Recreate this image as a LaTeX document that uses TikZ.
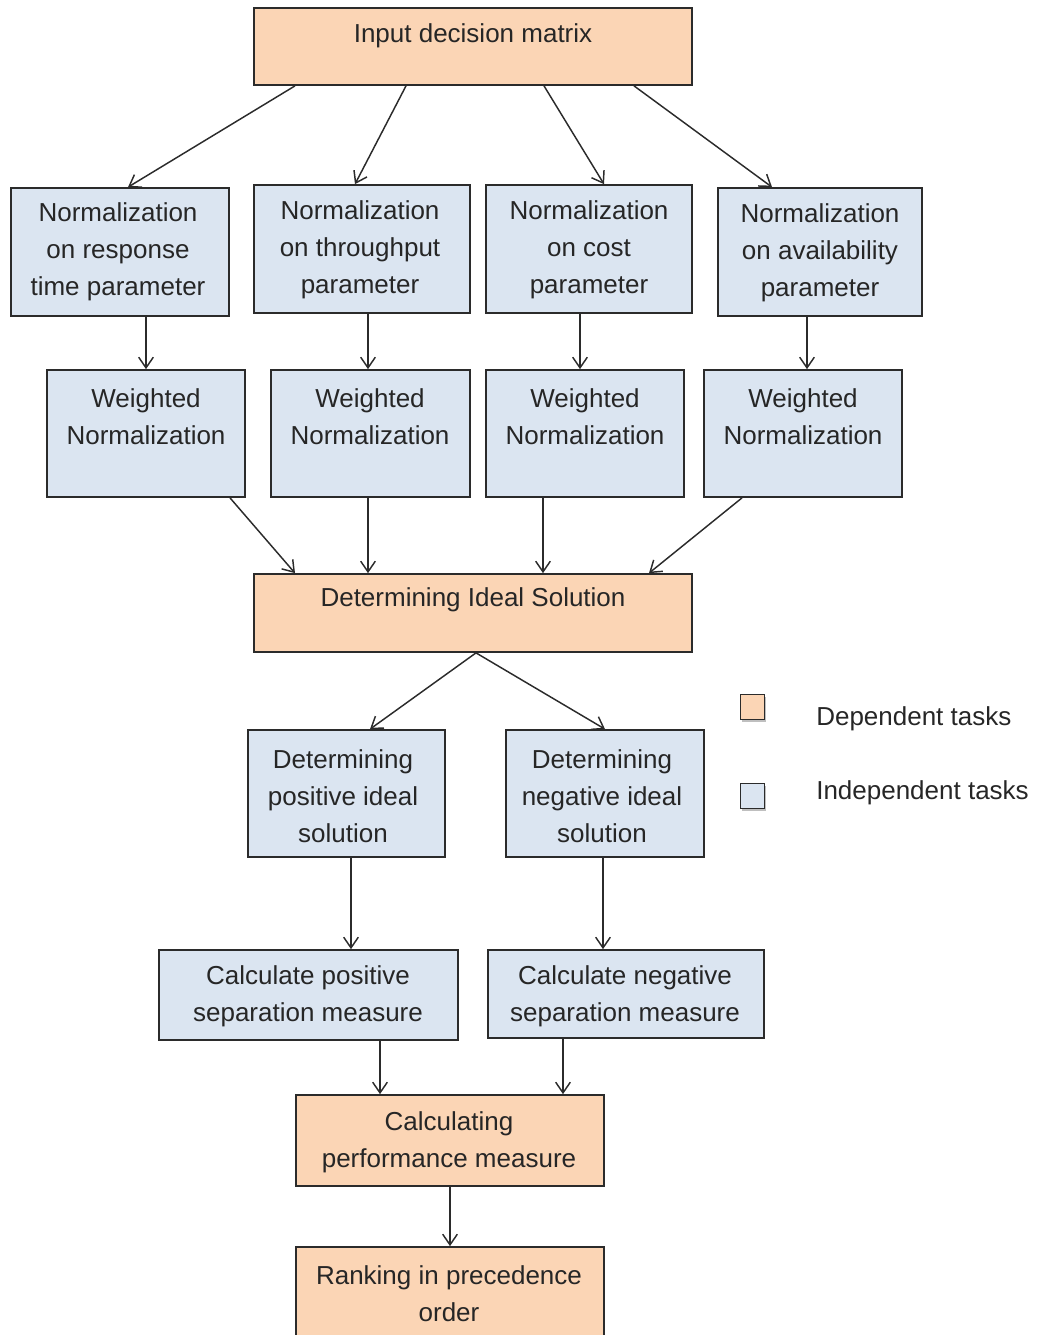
\documentclass[tikz,border=0pt]{standalone}
\usepackage{fontspec}
\setmainfont{Liberation Sans}
\usetikzlibrary{arrows.meta,fit,shadows}
\definecolor{depfill}{HTML}{FBD5B5}
\definecolor{indfill}{HTML}{DBE5F1}
\definecolor{edge}{HTML}{2B2B2B}
\tikzset{
  boxbase/.style={draw=edge, line width=1.3pt, inner sep=0pt},
  dep/.style={boxbase, fill=depfill},
  ind/.style={boxbase, fill=indfill},
  txt/.style={align=center, inner sep=0pt, text=black!85, yshift=-1.5pt,
    font=\fontsize{19.5}{27.75}\selectfont},
  conn/.style={draw=edge, line width=1.1pt, -{Straight Barb[length=8pt,width=11pt,line width=1.1pt]}},
  legbox/.style={draw=edge, line width=1.2pt, minimum width=18pt, minimum height=19pt, inner sep=0pt,
    drop shadow={shadow xshift=1.2pt, shadow yshift=-1.8pt, opacity=0.5}},
}
\newcommand{\mkbox}[9]{%
  \node[#2, fit={(#3,#4) (#5,#6)}] (#1) {};
  \node[txt] (#1-t) at (#7,#8) {#9};}
\begin{document}
\begin{tikzpicture}[x=0.75pt,y=-0.75pt]
\useasboundingbox (0,0) rectangle (1037,1335);
% boxes
\mkbox{in}{dep}{254}{8}{692}{85}{473}{34}{Input decision matrix}
\mkbox{n1}{ind}{11}{188}{229}{316}{118}{250}{Normalization\\on response\\time parameter}
\mkbox{n2}{ind}{254}{185}{470}{313}{360}{248}{Normalization\\on throughput\\parameter}
\mkbox{n3}{ind}{486}{185}{692}{313}{589}{248}{Normalization\\on cost\\parameter}
\mkbox{n4}{ind}{718}{188}{922}{316}{820}{251}{Normalization\\on availability\\parameter}
\mkbox{w1}{ind}{47}{370}{245}{497}{146}{415}{Weighted\\Normalization}
\mkbox{w2}{ind}{271}{370}{470}{497}{370}{415}{Weighted\\Normalization}
\mkbox{w3}{ind}{486}{370}{684}{497}{585}{415}{Weighted\\Normalization}
\mkbox{w4}{ind}{704}{370}{902}{497}{803}{415}{Weighted\\Normalization}
\mkbox{id}{dep}{254}{574}{692}{652}{473}{598}{Determining Ideal Solution}
\mkbox{pp}{ind}{248}{730}{445}{857}{343}{794}{Determining\\positive ideal\\solution}
\mkbox{np}{ind}{506}{730}{704}{857}{602}{794}{Determining\\negative ideal\\solution}
\mkbox{cp}{ind}{159}{950}{458}{1040}{308}{994}{Calculate positive\\separation measure}
\mkbox{cn}{ind}{488}{950}{764}{1038}{625}{994}{Calculate negative\\separation measure}
\mkbox{pf}{dep}{296}{1095}{604}{1186}{449}{1140}{Calculating\\performance measure}
\mkbox{rk}{dep}{296}{1247}{604}{1345}{449}{1292}{Ranking in precedence\\order}
% legend
\node[legbox, fill=depfill] (l1) at (752.5,707) {};
\node[legbox, fill=indfill] (l2) at (752.5,796) {};
\node[txt, anchor=west] (l1-t) at (816,717) {Dependent tasks};
\node[txt, anchor=west] (l2-t) at (816,791) {Independent tasks};
% connectors
\draw[conn] (in.south -| 295,0) -- (n1.north -| 128,0);
\draw[conn] (in.south -| 406,0) -- (n2.north -| 355,0);
\draw[conn] (in.south -| 544,0) -- (n3.north -| 604,0);
\draw[conn] (in.south -| 634,0) -- (n4.north -| 772,0);
\draw[conn] (n1.south -| 146,0) -- (w1.north -| 146,0);
\draw[conn] (n2.south -| 368,0) -- (w2.north -| 368,0);
\draw[conn] (n3.south -| 580,0) -- (w3.north -| 580,0);
\draw[conn] (n4.south -| 807,0) -- (w4.north -| 807,0);
\draw[conn] (w1.south -| 230,0) -- (id.north -| 295,0);
\draw[conn] (w2.south -| 368,0) -- (id.north -| 368,0);
\draw[conn] (w3.south -| 543,0) -- (id.north -| 543,0);
\draw[conn] (w4.south -| 742,0) -- (id.north -| 649,0);
\draw[conn] (id.south -| 476,0) -- (pp.north -| 370,0);
\draw[conn] (id.south -| 476,0) -- (np.north -| 605,0);
\draw[conn] (pp.south -| 351,0) -- (cp.north -| 351,0);
\draw[conn] (np.south -| 603,0) -- (cn.north -| 603,0);
\draw[conn] (cp.south -| 380,0) -- (pf.north -| 380,0);
\draw[conn] (cn.south -| 563,0) -- (pf.north -| 563,0);
\draw[conn] (pf.south) -- (rk.north);
\end{tikzpicture}
\end{document}
